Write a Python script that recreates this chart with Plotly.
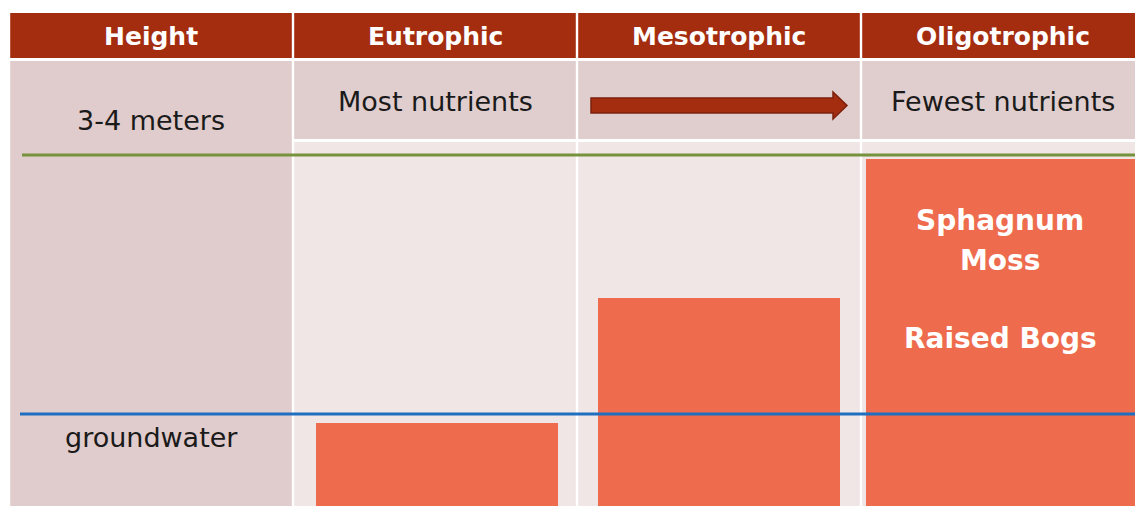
import plotly.graph_objects as go

# ---- data ----
columns = ["Height", "Eutrophic", "Mesotrophic", "Oligotrophic"]
bog_types = ["Eutrophic", "Mesotrophic", "Oligotrophic"]
bog_positions = [1.007, 2.0, 3.0]
bog_heights = [83, 208, 347]          # relative height (px-scale units)
bog_widths = [0.852, 0.852, 0.965]
groundwater_level = 92
top_level = 351
level_labels = ["3-4 meters", "groundwater"]
nutrient_labels = ["Most nutrients", "Fewest nutrients"]
bar_labels = ["Sphagnum", "Moss", "Raised Bogs"]

# ---- style ----
HEADER = "#A42D10"
ROW2 = "#E0CDCD"
COL0 = "#E0CCCC"
BODY = "#EFE6E5"
BAR = "#EE6C4D"
GREEN = "#76923C"
BLUE = "#1F6EC0"
FONT = "DejaVu Sans"

W, H = 1135, 506
px = 284.0
x0 = 151.0
def X(p):
    return (p - x0) / px
def Y(p):
    return H - p

fig = go.Figure()

shapes = []
g = 1.2 / px
for i, c in enumerate(columns):
    right = i + 0.5 - g if i < 3 else X(1140)
    shapes.append(dict(type="rect", xref="x", yref="y", x0=i - 0.5 + g, x1=right,
                       y0=Y(58), y1=Y(13), fillcolor=HEADER, line_width=0, layer="below"))
shapes.append(dict(type="rect", xref="x", yref="y", x0=-0.5 + g, x1=0.5 - g,
                   y0=0, y1=Y(61), fillcolor=COL0, line_width=0, layer="below"))
for i in range(1, 4):
    right = i + 0.5 - g if i < 3 else X(1140)
    shapes.append(dict(type="rect", xref="x", yref="y", x0=i - 0.5 + g, x1=right,
                       y0=Y(139), y1=Y(61), fillcolor=ROW2, line_width=0, layer="below"))
    shapes.append(dict(type="rect", xref="x", yref="y", x0=i - 0.5 + g, x1=right,
                       y0=0, y1=Y(142), fillcolor=BODY, line_width=0, layer="below"))

fig.add_trace(go.Bar(x=bog_positions, y=bog_heights, width=bog_widths,
                     marker=dict(color=BAR, line_width=0), hoverinfo="skip",
                     showlegend=False))

shapes.append(dict(type="line", xref="x", yref="y", x0=X(22), x1=X(1140),
                   y0=top_level, y1=top_level, line=dict(color=GREEN, width=3), layer="above"))
shapes.append(dict(type="line", xref="x", yref="y", x0=X(20), x1=X(1140),
                   y0=groundwater_level, y1=groundwater_level,
                   line=dict(color=BLUE, width=3), layer="above"))

ay = Y(105.5)
bx0, bx1, hx = X(591), X(833), X(847)
path = (f"M {bx0},{ay+7.5} L {bx1},{ay+7.5} L {bx1},{ay+13.5} L {hx},{ay} "
        f"L {bx1},{ay-13.5} L {bx1},{ay-7.5} L {bx0},{ay-7.5} Z")
shapes.append(dict(type="path", xref="x", yref="y", path=path, fillcolor=HEADER,
                   line=dict(color="#7C200C", width=1.5), layer="above"))

ann = []
for i, c in enumerate(columns):
    ann.append(dict(x=i, y=Y(36), text=f"<b>{c}</b>", showarrow=False,
                    font=dict(family=FONT, size=25, color="white")))
TXT = "#1a1a1a"
ann.append(dict(x=0, y=Y(120), text=level_labels[0], showarrow=False,
                font=dict(family=FONT, size=27, color=TXT)))
ann.append(dict(x=0, y=Y(437), text=level_labels[1], showarrow=False,
                font=dict(family=FONT, size=27, color=TXT)))
ann.append(dict(x=1, y=Y(101), text=nutrient_labels[0], showarrow=False,
                font=dict(family=FONT, size=27, color=TXT)))
ann.append(dict(x=3, y=Y(101), text=nutrient_labels[1], showarrow=False,
                font=dict(family=FONT, size=27, color=TXT)))
for t, yy in zip(bar_labels, [220, 260, 338]):
    ann.append(dict(x=X(1000), y=Y(yy), text=f"<b>{t}</b>", showarrow=False,
                    font=dict(family=FONT, size=28, color="white")))

fig.update_layout(
    width=W, height=H, margin=dict(l=0, r=0, t=0, b=0),
    paper_bgcolor="white", plot_bgcolor="white",
    shapes=shapes, annotations=ann, bargap=0,
    xaxis=dict(range=[X(0), X(W)], visible=False, fixedrange=True),
    yaxis=dict(range=[0, H], visible=False, fixedrange=True),
)
fig.write_html("out.html")
